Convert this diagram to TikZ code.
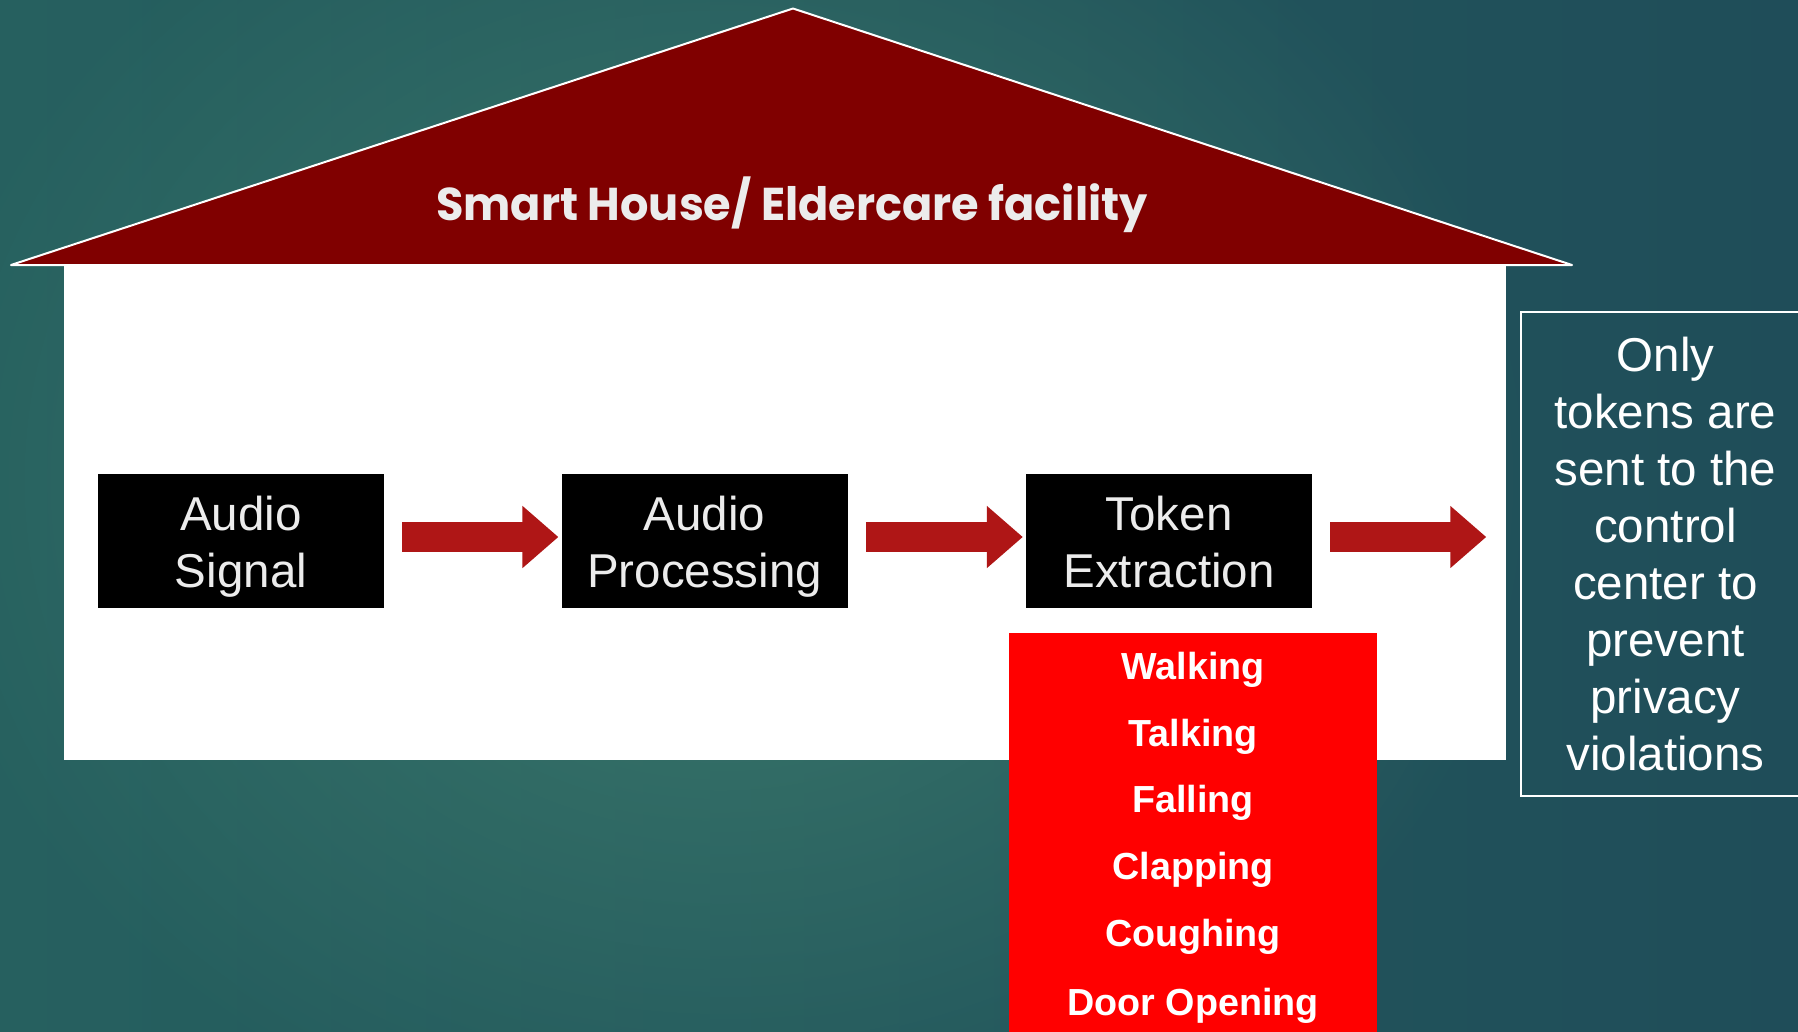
\documentclass[tikz,border=0pt]{standalone}
\usepackage{fontspec}
\setmainfont{Liberation Sans}
\newfontfamily\titlefont{Poppins}
\usetikzlibrary{arrows.meta,fadings}

\definecolor{roofred}{RGB}{128,0,0}
\definecolor{arrowred}{RGB}{175,22,22}
\definecolor{listred}{RGB}{255,0,0}
\definecolor{titlegray}{RGB}{236,236,236}
\definecolor{bglight}{RGB}{60,122,108}
\definecolor{bgleft}{RGB}{38,96,95}
\definecolor{bgright}{RGB}{31,77,89}
\tikzfading[name=glow, inner color=transparent!0, outer color=transparent!100]
% struts so every two-line block sits at the same height
\newcommand{\topstrut}{\rule{0pt}{46pt}}
\newcommand{\botstrut}{\rule[-11pt]{0pt}{11pt}}

\tikzset{
  block/.style={fill=black, text=titlegray, minimum width=286pt, minimum height=134pt,
    inner sep=0pt, align=center, font=\fontsize{47.5}{57}\selectfont},
  flow/.style={arrowred, line width=30pt, -{Triangle[length=36pt,width=60pt]}},
  token/.style={text=white, anchor=base, font=\fontsize{37.7}{45}\selectfont\bfseries},
}

\begin{document}
\begin{tikzpicture}[x=1pt,y=-1pt]
\useasboundingbox (0,0) rectangle (1798,1031);
\shade[left color=bgleft, right color=bgright] (0,0) rectangle (1798,1031);
\fill[bglight, path fading=glow] (720,480) ellipse [x radius=820, y radius=700];

% house
\fill[white] (64,265) rectangle (1506,760);
\draw[white, line width=2pt, line join=round, fill=roofred] (11,265) -- (793,8.5) -- (1572,265) -- cycle;
\node[text=titlegray, anchor=base, xscale=0.97, font=\titlefont\fontsize{46}{56}\selectfont\bfseries] (title) at (792,220) {Smart House/ Eldercare facility};

% pipeline
\node[block] (sig) at (241,541) {\topstrut Audio\\Signal\botstrut};
\node[block] (proc) at (704.6,541) {\topstrut Audio\\Processing\botstrut};
\node[block] (tok) at (1169,541) {\topstrut Token\\Extraction\botstrut};
\node[draw=white, line width=1.5pt, minimum width=289pt, minimum height=484pt, inner sep=0pt,
  align=center, text=white, font=\fontsize{47.5}{57}\selectfont] (note) at (1665.5,554)
  {Only\\tokens are\\sent to the\\control\\center to\\prevent\\privacy\\violations};
\coordinate (sink) at (tok.east -| note.west);

\draw[flow] ([xshift=18pt,yshift=4pt]sig.east) -- ([xshift=-3pt,yshift=4pt]proc.west);
\draw[flow] ([xshift=18pt,yshift=4pt]proc.east) -- ([xshift=-3pt,yshift=4pt]tok.west);
\draw[flow] ([xshift=18pt,yshift=4pt]tok.east) -- ([xshift=-34pt,yshift=4pt]sink);

% tokens
\node[fill=listred, minimum width=368pt, minimum height=412pt, inner sep=0pt] (tokbox) at (1193,839) {};
\node[token] (walk) at (1193,679.3) {Walking};
\node[token] (talk) at (1193,746) {Talking};
\node[token] (fall) at (1193,812.7) {Falling};
\node[token] (clap) at (1193,879.3) {Clapping};
\node[token] (cough) at (1193,946.7) {Coughing};
\node[token] (door) at (1193,1015) {Door Opening};
\end{tikzpicture}
\end{document}
